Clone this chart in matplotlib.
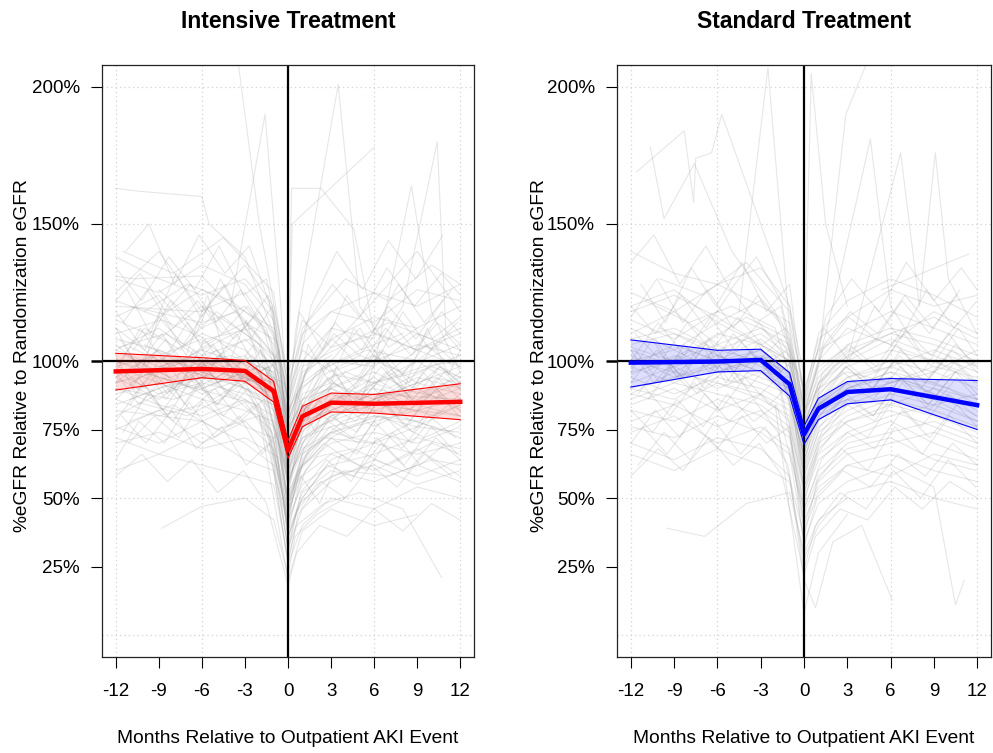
import matplotlib
matplotlib.use("Agg")
import matplotlib.pyplot as plt
import numpy as np

plt.rcParams['font.family'] = ['Liberation Sans', 'DejaVu Sans']

# ---------------- data ----------------
x_ticks = [-12, -9, -6, -3, 0, 3, 6, 9, 12]
y_ticks = [25, 50, 75, 100, 150, 200]
y_tick_labels = ["25%", "50%", "75%", "100%", "150%", "200%"]
titles = ["Intensive Treatment", "Standard Treatment"]
xlabel = "Months Relative to Outpatient AKI Event"
ylabel = "%eGFR Relative to Randomization eGFR"

mean_months = [-12, -6, -3, -1, 0, 1, 3, 6, 12]
intensive_mean = [96.2, 97.1, 96.4, 89.0, 67.4, 79.8, 84.8, 84.4, 85.1]
intensive_lower = [89.4, 93.9, 92.6, 85.0, 64.5, 76.0, 81.4, 81.0, 78.6]
intensive_upper = [102.8, 101.2, 100.2, 92.6, 71.0, 83.5, 88.3, 87.8, 91.7]
standard_mean = [99.4, 99.8, 100.4, 91.5, 73.2, 82.6, 88.7, 89.7, 83.9]
standard_lower = [90.5, 96.0, 96.5, 87.2, 69.6, 78.6, 84.4, 85.8, 75.0]
standard_upper = [107.7, 103.9, 104.3, 95.7, 76.2, 86.4, 92.5, 93.6, 92.9]

# individual patient trajectories: flat [month, %eGFR, month, %eGFR, ...]
intensive_patients = [
    [-12,92,-9,98,-6,95,-3,90,-0.8,85,0,55,1,70,3,80,6,84,9,82,12,86],
    [-11.8,105,-8.5,110,-5.9,102,-2.7,108,-0.5,95,0,62,0.8,85,3.2,95,6,92,9.5,98,12,100],
    [-12,120,-6.2,118,-3,125,-1,110,0,78,1.2,95,3,105,6.3,110,9,104,12,112],
    [-10.5,85,-7,80,-4,88,-1.2,75,0,45,0.7,60,2.5,72,5.8,70,8.8,78,11.5,74],
    [-12,100,-9.2,96,-6,104,-3.1,99,-0.3,92,0,70,1,82,3,90,6,96,9,88,12,94],
    [-11,78,-8,84,-5,75,-2,80,0,40,0.5,55,2,65,4.5,68,7,62,10,70,12,66],
    [-12,130,-9,125,-6,135,-3,128,-1,115,0,85,1,110,3,118,6,125,9,120,12,128],
    [-9.5,95,-6.5,90,-3.5,98,-1.5,88,0,50,1.5,68,3.5,75,6.5,80,9.5,72,12,78],
    [-12,110,-8.8,115,-5.7,108,-2.5,112,-0.6,100,0,72,0.9,90,2.8,98,5.5,104,9.2,100,12,106],
    [-12,88,-9,92,-6,86,-3,82,-1,78,0,48,1,62,3,70,6,74,9,70,12,76],
    [-11.5,140,-8,132,-4.5,145,-1,125,0,90,1,112,4,130,7,122,10,135,12,128],
    [-12,70,-9,74,-6,68,-3,72,-0.7,65,0,35,0.8,48,3,58,6,62,9,55,12,60],
    [-12,98,-10,112,-7.5,104,-5,118,-2,106,0,65,1,80,2.5,95,5,102,8,96,11,108],
    [-8,100,-5,94,-2.5,102,-0.5,90,0,58,1.1,75,3,82,6,88,12,86],
    [-12,82,-6,78,-3,85,-1,70,0,30,0.6,45,2,55,4,60,7,58,10,64,12,62],
    [-12,125,-9,140,-6,118,-3,135,-1,120,0,95,1,115,3,105,6,122,9,140,12,118],
    [-11,105,-8,98,-5,108,-2,96,0,68,1,88,3,92,6,86,9,94,12,90],
    [-12,163,-10.5,162,-6,160,-5.5,150,-3,138,-1,110,0,85,1,100,3,112,6,108],
    [-12,131,-10.8,130,-6,131,-4,120,-2,108,0,75,2,96,5,104,8,110],
    [-11,120,-6,114,-3.5,118,-1,102,0,60,1.5,84,4,96,7,90,10,98,12,94],
    [-4,120,-1.6,190,-0.5,120,0,80,1,96,3,102],
    [-3.5,210,-2,150,-0.4,104,0,76,0.5,110,3.5,201,5,120,7,105,9,112],
    [0,88,0.3,150,6,178],
    [0,92,0.25,163,2.3,163,4.6,148,6,110,9,104,12,98],
    [-12,90,-8,86,-4,94,-1,88,0,66,1,76,3,84,6,98,8.6,164,10,118,12,96],
    [-10,95,-7,100,-4,96,-1,92,0,70,2,88,5,95,8,120,10.4,180,11,110,12,104],
    [-12,60,-9,66,-6,62,-3,58,-1,55,0,28,0.6,40,2.5,48,5,52,8,46,10.7,21],
    [-8.8,39,-6,47,-3,50,-1,42,0,22,0.5,36,2,44,4,50],
    [-12,115,-9,108,-6,120,-3,110,-1,102,0,82,1,92,3,100,6,98,9,110,12,104],
    [-12,75,-9,82,-6,70,-3,78,-1,68,0,42,1,55,3,62,6,66,9,72,12,68],
    [-11.3,102,-8.2,94,-5.3,100,-2.3,92,-0.4,86,0,52,1.3,66,3.8,78,7.2,84,10.3,80,12,88],
    [-12,108,-9,104,-6,96,-3,100,-1,96,0,74,1,86,3,90,6,84,9,90,12,82],
    [-12,96,-9,88,-6,92,-3,88,-1,84,0,60,1,72,3,76,6,80,9,78,12,72],
    [-10,118,-7,128,-4,122,-1.5,112,0,80,1,98,4,106,7,114,10,108,12,116],
    [-12,86,-9,80,-6,84,-3,76,-1,72,0,38,1,50,3,64,6,70,9,66,12,70],
    [-12,104,-9,112,-6,100,-3,94,-1,90,0,64,1,78,3,86,6,90,9,86,12,92],
    [-11,92,-8,100,-5,92,-2,98,0,56,1,70,3,84,6,92,9,96,12,102],
    [-12,80,-6,96,-3,90,-1,82,0,46,1,58,3,66,6,60,9,68,12,58],
    [-9,126,-6,112,-3,120,-1,106,0,70,1,90,3,100,5,112,7,96,9,104,12,110],
    [-12,112,-9,100,-6,110,-3,104,-1,94,0,62,0.5,74,2,80,4,88,6,94,9,84,12,96],
    [-12,94,-9,104,-6,98,-3,108,-1,98,0,76,1,84,3,78,6,92,9,100,12,90],
    [-12,72,-9,66,-6,74,-3,64,-1,60,0,26,1,40,3,50,6,46,9,54,12,50],
    [-12,100,-9,94,-6,90,-3,96,-1,86,0,54,1,68,3,74,6,78,9,82,12,80],
    [-11,86,-8,92,-5,88,-2,84,0,44,1,62,3,72,6,80,9,76,12,84],
    [-12,122,-9,116,-6,126,-3,118,-1,112,0,88,1,104,3,96,6,102,9,92,12,98],
    [-10,106,-7,98,-4,102,-1,96,0,58,2,76,5,82,8,90,11,86],
    [-12,90,-9,84,-6,80,-3,86,-1,76,0,36,1,52,3,60,6,56,9,62,12,56],
    [-12,84,-9,90,-6,94,-3,86,-1,80,0,50,1,66,3,74,6,70,9,76,12,74],
    [-6,104,-3,112,-1,100,0,66,1,84,3,94,6,100,9,106,12,102],
    [-12,116,-9,124,-6,106,-3,114,-1,108,0,78,1,94,3,108,6,116,9,112,12,120],
    [-12,98,-9,102,-6,108,-3,96,-1,92,0,68,1,80,3,88,6,82,9,78,12,84],
    [-12,76,-9,70,-6,78,-3,70,-1,62,0,32,1,46,3,56,6,64,9,58,12,64],
    [-11,96,-8,90,-5,96,-2,92,0,60,1,78,3,86,6,76,9,84,12,80],
    [-12,138,-9,130,-6,124,-3,130,-1,118,0,84,1,106,3,118,6,114,9,126,12,122],
    [-12,104,-9,98,-6,102,-3,90,-1,84,0,48,1,64,3,80,6,86,9,92,12,88],
    [-12,92,-9,96,-6,88,-3,94,-1,90,0,70,1,78,3,82,6,88,9,84,12,90],
    [-2,80,0,20,1,38,3,46,6,40,9,44],
    [-12,94,-9,86,-6,98,-3,102,-1,88,0,56,1,72,4,82,7,88,10,94,12,92],
    [-11.7,108,-10.2,96,-8.9,118,-7.1,102,-5.6,124,-4.2,98,-2.9,115,-1.7,92,-0.6,104,0,60,0.6,88,1.9,74,3.3,96,4.8,82,6.4,104,8.1,90,9.7,112,11.2,95,12,104],
    [-12,64,-10.4,78,-8.6,70,-6.9,85,-5.1,72,-3.4,80,-1.8,66,-0.7,74,0,38,0.9,58,2.2,48,3.7,66,5.5,60,7.3,74,9.2,62,11,70],
    [-11.2,126,-9.6,110,-7.8,132,-6.1,116,-4.4,128,-2.6,108,-1.1,120,0,74,1.4,106,2.9,92,4.6,112,6.2,100,8,118,9.9,104,11.8,114],
    [-12,102,-10.6,88,-9,100,-7.2,84,-5.5,96,-3.8,86,-2.2,98,-0.9,80,0,50,0.7,72,2.1,86,3.9,76,5.7,92,7.6,80,9.4,96,11.3,84],
    [-10.9,90,-9.1,104,-7.4,92,-5.8,108,-4,94,-2.4,106,-1,90,0,64,1,80,2.6,100,4.3,88,6,102,7.8,94,9.6,106,11.5,98],
    [-12,118,-10,104,-8.2,122,-6.4,110,-4.7,130,-3,112,-1.4,124,0,86,0.8,118,2.4,104,4.1,124,5.9,110,7.7,128,9.5,114,11.4,126],
    [-11.5,74,-9.8,88,-8,78,-6.3,92,-4.5,80,-2.8,90,-1.2,70,0,32,0.9,52,2.7,64,4.4,56,6.2,72,8.1,62,10,76,11.8,66],
    [-12,96,-10.3,112,-8.7,100,-7,114,-5.3,98,-3.6,110,-2,96,-0.5,100,0,66,1.2,86,3,100,4.7,90,6.6,104,8.4,92,10.2,106,12,98],
    [-11,84,-9.4,96,-7.7,86,-6,100,-4.3,88,-2.5,94,-0.8,84,0,44,1.1,64,2.9,76,4.9,70,6.8,84,8.7,74,10.6,88],
    [-12,134,-10.2,122,-8.3,138,-6.5,126,-4.8,142,-3.1,124,-1.5,130,0,92,1.3,114,3.1,128,5,116,6.9,134,8.8,120,10.7,132,12,124],
    [-10.2,100,-8.5,86,-6.7,98,-5,84,-3.2,94,-1.6,80,0,42,0.8,60,2.5,70,4.2,64,6,78,7.9,68,9.8,80,11.7,72],
    [-12,112,-10.5,98,-8.8,110,-7.1,96,-5.2,106,-3.5,92,-1.9,104,-0.6,90,0,56,1.5,76,3.4,88,5.3,80,7.1,94,9,84,10.9,96,12,90],
    [-11.6,80,-9.9,70,-8.1,82,-6.4,68,-4.6,76,-2.9,62,-1.3,70,0,26,0.7,44,2.3,56,4,50,5.8,62,7.6,54,9.5,66,11.4,58],
    [-12,92,-10.1,100,-8.4,88,-6.6,104,-4.9,92,-3.2,100,-1.6,88,0,58,1.1,82,2.8,94,4.6,86,6.5,98,8.3,88,10.1,100,12,92],
    [-11.3,140,-9.7,150,-7.9,128,-6.2,146,-4.4,132,-2.7,142,-1.1,118,0,80,1.6,120,3.4,140,5.2,126,7,144,8.9,130,10.8,146],
    [-12,58,-10.2,66,-8.4,56,-6.7,64,-4.9,52,-3.1,60,-1.5,48,0,18,0.6,30,2.2,40,4.1,36,6,46,8,38,10,48,12,42],
    [-10.8,104,-9,116,-7.3,106,-5.5,120,-3.8,108,-2,118,-0.7,106,0,72,1.2,96,3.1,108,5,98,6.8,112,8.6,102,10.4,114,12,106],
    [-12,86,-10.4,94,-8.7,82,-6.9,96,-5.2,86,-3.4,92,-1.7,80,0,46,1,66,2.8,78,4.5,72,6.3,86,8.2,76,10.1,90,11.9,80],
    [-11.8,98,-10,90,-8.3,100,-6.5,92,-4.8,102,-3,94,-1.3,98,0,70,1.3,84,3.2,92,5.1,86,7,96,8.8,90,10.6,98,12,94],
    [-12,122,-10.3,132,-8.5,118,-6.8,128,-5,114,-3.3,126,-1.7,112,0,78,1.5,100,3.3,114,5.1,104,7,120,8.9,108,10.8,122],
    [-11.1,70,-9.3,80,-7.6,72,-5.9,86,-4.1,76,-2.3,84,-0.9,72,0,36,1,50,2.7,62,4.6,58,6.5,70,8.4,60,10.3,72,12,64],
    [-12,106,-10.2,98,-8.5,108,-6.8,96,-5,104,-3.3,94,-1.6,100,0,62,1.2,80,3,90,4.9,84,6.8,96,8.7,86,10.6,98,12,92],
    [-6.5,90,-4.7,102,-3,92,-1.4,98,0,54,1,74,2.8,84,4.7,78,6.6,90,8.5,82,10.4,94,12,86],
    [-12,96,-10.4,84,-8.6,94,-6.8,82,-5.1,90,-3.3,78,-1.7,86,0,40,1.2,60,3,72,4.8,66,6.7,80,8.6,70,10.5,82],
    [-11.5,114,-9.8,126,-8,112,-6.3,122,-4.6,110,-2.8,120,-1.2,108,0,76,1.4,98,3.2,110,5,102,6.9,116,8.8,104,10.7,118,12,110],
    [-12,78,-10.1,92,-8.4,80,-6.6,94,-4.9,84,-3.1,96,-1.5,82,0,48,1.1,68,2.9,80,4.8,74,6.6,88,8.5,78,10.3,90,12,82],
]

standard_patients = [
    [-12,95,-9,102,-6,98,-3,104,-1,95,0,70,1,84,3,92,6,94,9,90,12,86],
    [-11.6,169,-8.3,184,-7.65,158,-7.5,174,-6.4,176,-5.7,190,-3,150,-1,120,0,95],
    [-10.65,178,-9.7,152,-7.6,172,-5,140,-2,118,0,90],
    [-4.5,118,-2.5,207,-1,112,0,82,1,98,3,105],
    [0,96,0.5,205,1.5,150,3,120],
    [1,100,2.9,190,4.6,212],
    [0,80,2,120,4.6,181,6,120,8,104],
    [3,100,6.7,176,8,120,9.1,176,10,130,12,110],
    [5.4,126,11.4,139],
    [-12,110,-9,118,-6,106,-3,112,-1,104,0,76,1,92,3,100,6,108,9,102,12,96],
    [-12,88,-9,84,-6,92,-3,86,-1,80,0,50,1,64,3,72,6,78,9,70,12,64],
    [-12,120,-9,126,-6,114,-3,122,-1,110,0,84,1,100,3,112,6,106,9,118,12,110],
    [-12,100,-9,96,-6,104,-3,100,-1,96,0,72,1,84,3,90,6,96,9,88,12,80],
    [-10,130,-7,124,-4,136,-1,118,0,88,1,108,3,116,6,126,9,120,12,124],
    [-12,78,-9,84,-6,76,-3,82,-1,74,0,44,1,58,3,68,6,72,9,64,12,60],
    [-12,105,-9,100,-6,110,-3,106,-1,100,0,78,1,90,3,96,6,92,9,98,12,94],
    [-12,92,-9,98,-6,90,-3,96,-1,86,0,58,1,72,3,80,6,86,9,82,12,76],
    [-9.5,39,-6.9,36,-4,48,-1,52,0,30,1,42,3,50],
    [-12,70,-9,64,-6,72,-3,68,-1,58,0,20,0.8,10,2,34,4,40,6.1,13],
    [-12,98,-9,106,-6,100,-3,108,-1,100,0,74,1,86,3,94,6,100,9,96,12,104],
    [-12,84,-9,90,-6,82,-3,88,-1,78,0,46,1,60,3,70,6,74,9,78,12,72],
    [-12,115,-9,108,-6,118,-3,112,-1,106,0,80,1,94,3,104,6,110,9,106,12,100],
    [-11,96,-8,104,-5,98,-2,102,0,66,1,82,3,90,6,94,9,88,12,84],
    [-12,102,-9,94,-6,98,-3,92,-1,88,0,62,1,76,3,84,6,90,9,86,12,78],
    [-12,125,-9,118,-6,128,-3,120,-1,114,0,90,1,104,3,110,6,118,9,112,12,106],
    [-12,90,-9,94,-6,100,-3,94,-1,90,0,64,1,78,3,88,6,92,9,96,12,90],
    [-12,76,-9,72,-6,80,-3,74,-1,66,0,34,1,48,3,56,6,62,9,54,10.5,11,11.1,20],
    [-12,108,-9,112,-6,104,-3,110,-1,102,0,70,1,88,3,98,6,104,9,100,12,92],
    [-12,94,-9,88,-6,94,-3,90,-1,84,0,54,1,68,3,78,6,82,9,76,12,70],
    [-10,112,-7,106,-4,116,-1,108,0,82,2,98,5,108,8,102,11,96],
    [-12,86,-9,92,-6,88,-3,84,-1,76,0,40,1,56,3,66,6,70,9,74,12,68],
    [-12,118,-9,124,-6,116,-3,106,-1,100,0,76,1,92,3,102,6,110,9,116,12,108],
    [-12,100,-9,104,-6,96,-3,102,-1,94,0,68,1,80,3,86,6,84,9,90,12,82],
    [-12,82,-9,78,-6,86,-3,80,-1,72,0,38,1,52,3,62,6,58,9,66,12,62],
    [-12,96,-9,100,-6,106,-3,98,-1,92,0,60,1,74,3,82,6,88,9,84,12,88],
    [-12,140,-9,132,-6,128,-3,134,-1,120,0,86,1,110,3,122,6,130,9,124,12,116],
    [-12,104,-9,98,-6,102,-3,96,-1,90,0,56,1,70,3,78,6,84,9,80,12,74],
    [-12,112,-9,104,-6,114,-3,106,-1,98,0,66,1,84,3,94,6,98,9,104,12,98],
    [-2,84,0,8,1,30,3,44],
    [-12,90,-9,86,-6,96,-3,100,-1,92,0,72,1,82,4,88,7,94,10,90,12,84],
    [-12,74,-9,80,-6,70,-3,76,-1,68,0,42,1,54,3,62,6,66,9,60,12,56],
    [-11,122,-8,114,-5,120,-2,112,0,78,1,96,3,106,6,112,9,108,12,102],
    [-12,98,-9,92,-6,100,-3,104,-1,96,0,70,1,84,3,92,6,98,9,92,12,86],
    [-12,66,-9,60,-6,68,-3,62,-1,56,0,28,1,40,3,52,6,56,9,50,12,46],
    [-12,106,-9,110,-6,102,-3,96,-1,94,0,64,1,80,3,90,6,96,9,92,12,100],
    [-12,88,-9,96,-6,92,-3,88,-1,82,0,52,1,66,3,74,6,80,9,84,12,78],
    [-11.7,104,-10,92,-8.3,106,-6.6,96,-4.9,110,-3.2,100,-1.6,108,-0.5,96,0,68,1.1,90,2.8,100,4.6,92,6.4,106,8.2,96,10,110,11.8,98],
    [-12,70,-10.3,82,-8.6,72,-6.9,88,-5.2,78,-3.5,86,-1.8,74,0,36,0.9,56,2.6,68,4.4,60,6.3,76,8.2,66,10.1,80,12,70],
    [-11.3,128,-9.6,114,-7.8,134,-6.1,120,-4.3,136,-2.6,118,-1,128,0,86,1.4,112,3.1,100,4.9,120,6.7,108,8.5,126,10.4,112,12,122],
    [-12,96,-10.5,108,-8.8,94,-7.1,106,-5.4,92,-3.7,104,-2.1,94,-0.8,100,0,62,1,84,2.7,96,4.5,88,6.3,100,8.1,90,10,102,11.8,92],
    [-10.8,86,-9.1,98,-7.4,88,-5.7,102,-3.9,90,-2.2,100,-0.9,88,0,52,1.2,72,3,84,4.9,78,6.8,92,8.7,82,10.6,94,12,86],
    [-12,116,-10.2,130,-8.4,114,-6.7,126,-4.9,112,-3.2,124,-1.5,114,0,80,1.3,104,3.1,116,5,108,6.8,122,8.7,110,10.6,124],
    [-11.5,62,-9.7,74,-7.9,64,-6.2,78,-4.4,66,-2.7,76,-1.1,62,0,24,0.8,40,2.5,52,4.3,46,6.2,60,8.1,50,10,64,11.9,54],
    [-12,100,-10.1,114,-8.3,102,-6.5,116,-4.8,104,-3.1,114,-1.4,102,0,74,1.3,94,3.2,104,5,96,6.9,110,8.8,98,10.7,112,12,102],
    [-11,90,-9.3,80,-7.6,92,-5.8,82,-4.1,94,-2.4,84,-0.9,92,0,58,1.1,76,2.9,88,4.8,80,6.7,94,8.6,84,10.5,96],
    [-12,136,-10.4,146,-8.6,128,-6.8,142,-5.1,126,-3.3,138,-1.6,122,0,84,1.5,116,3.3,130,5.2,118,7.1,136,9,122,10.9,134,12,126],
    [-10.3,108,-8.6,94,-6.8,106,-5.1,92,-3.3,102,-1.7,90,0,48,0.9,66,2.6,78,4.4,72,6.2,86,8.1,76,10,88,11.9,80],
    [-12,82,-10.5,74,-8.8,86,-7,76,-5.3,88,-3.5,78,-1.9,84,0,46,1.2,64,3,74,4.9,68,6.8,82,8.7,72,10.6,84,12,76],
    [-11.7,110,-9.9,100,-8.1,114,-6.4,104,-4.6,116,-2.9,106,-1.3,112,0,76,1.3,96,3.1,106,5,98,6.9,112,8.8,102,10.7,114],
    [-12,92,-10.2,104,-8.4,94,-6.6,108,-4.9,96,-3.2,106,-1.6,96,0,66,1.1,86,2.9,98,4.7,90,6.6,102,8.4,92,10.3,104,12,96],
    [-11.2,76,-9.5,66,-7.8,78,-6,68,-4.3,80,-2.6,70,-1,76,0,32,0.9,50,2.7,60,4.6,54,6.5,66,8.4,58,10.3,70,12,62],
    [-12,120,-10.3,110,-8.5,124,-6.8,112,-5,126,-3.3,114,-1.6,120,0,82,1.4,106,3.2,118,5.1,110,7,124,8.9,112,10.8,126],
    [-6.2,96,-4.5,108,-2.8,98,-1.2,104,0,68,1.1,88,2.9,98,4.8,90,6.7,104,8.6,94,10.5,106,12,98],
    [-12,104,-10.4,92,-8.7,102,-6.9,90,-5.2,98,-3.4,86,-1.8,94,0,54,1.2,74,3,86,4.8,80,6.7,94,8.6,84,10.5,96,12,88],
    [-11.5,88,-9.8,100,-8,90,-6.3,104,-4.6,92,-2.8,102,-1.2,90,0,60,1.1,80,2.9,92,4.8,86,6.7,98,8.6,88,10.5,100,12,92],
    [-12,58,-10.1,68,-8.4,60,-6.6,72,-4.9,62,-3.1,70,-1.5,58,0,22,0.8,36,2.5,46,4.4,42,6.3,54,8.2,46,10.1,56,12,50],
]

panel_colors = ["#ff0000", "#0000ff"]

# ---------------- figure ----------------
W, H = 993, 753
fig = plt.figure(figsize=(W / 100, H / 100), dpi=100)

ax_boxes = [(102, 65, 474, 657), (617, 65, 991, 657)]
ylabel_x = [23, 540]

panels = [
    (intensive_patients, intensive_mean, intensive_lower, intensive_upper),
    (standard_patients, standard_mean, standard_lower, standard_upper),
]

for i, (patients, mean, lower, upper) in enumerate(panels):
    x0, y0, x1, y1 = ax_boxes[i]
    ax = fig.add_axes([x0 / W, 1 - y1 / H, (x1 - x0) / W, (y1 - y0) / H])
    ax.set_xlim(-12.96, 12.96)
    ax.set_ylim(-8, 208)

    # grid
    for gx in [-12, -6, 0, 6, 12]:
        ax.axvline(gx, color="#d3d3d3", lw=0.9, ls=(0, (1, 2.5)), zorder=0)
    for gy in [0, 50, 100, 150, 200]:
        ax.axhline(gy, color="#d3d3d3", lw=0.9, ls=(0, (1, 2.5)), zorder=0)

    # individual trajectories
    for p in patients:
        t = p[0::2]
        v = p[1::2]
        ax.plot(t, v, color="#9a9a9a", alpha=0.24, lw=0.8, zorder=1)

    # reference lines
    ax.axhline(100, color="black", lw=1.6, zorder=2)
    ax.axvline(0, color="black", lw=1.6, zorder=2)

    c = panel_colors[i]
    ax.fill_between(mean_months, lower, upper, color=c, alpha=0.13, lw=0, zorder=3)
    ax.plot(mean_months, lower, color=c, lw=0.8, zorder=3)
    ax.plot(mean_months, upper, color=c, lw=0.8, zorder=3)
    ax.plot(mean_months, mean, color=c, lw=3.2, zorder=4, solid_joinstyle="round")

    ax.set_xticks(x_ticks)
    ax.set_xticklabels([str(v) for v in x_ticks])
    ax.set_yticks(y_ticks)
    ax.set_yticklabels(y_tick_labels)
    ax.tick_params(axis="both", direction="out", length=8, width=0.8,
                   labelsize=13.5, colors="black")
    ax.tick_params(axis="x", pad=11)
    ax.tick_params(axis="y", pad=8)
    ax.yaxis.get_major_ticks()[3].tick1line.set_markeredgewidth(1.8)
    for s in ax.spines.values():
        s.set_linewidth(0.9)
        s.set_color("#222222")

    ax.set_title(titles[i], fontsize=16.5, fontweight="bold", pad=27)

    fig.text((x0 + x1) / 2 / W, 1 - 743 / H, xlabel, ha="center",
             va="baseline", fontsize=13.8)
    fig.text(ylabel_x[i] / W, 1 - ((y0 + y1) / 2 - 5) / H, ylabel,
             rotation=90, ha="center", va="center", fontsize=13.8)

fig.savefig("out.png", dpi=100)
